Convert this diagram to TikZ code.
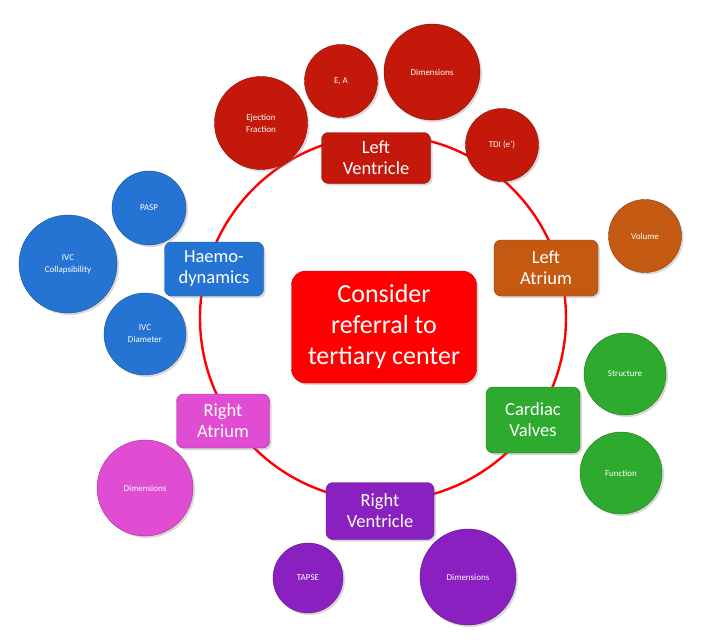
\documentclass[tikz,border=0pt]{standalone}
\usepackage{fontspec}
\setmainfont{Carlito}
\usepackage{xcolor}
\usepackage{tikz}
\usetikzlibrary{positioning,shadows}

\definecolor{lvred}{HTML}{C4180B}
\definecolor{laorange}{HTML}{C45A12}
\definecolor{cvgreen}{HTML}{2EAA2E}
\definecolor{rvpurple}{HTML}{8A20C0}
\definecolor{ramagenta}{HTML}{E04CD2}
\definecolor{hdblue}{HTML}{2574D4}

\begin{document}
\begin{tikzpicture}[
    x=1pt, y=-1pt,
    ring/.style={draw=red, line width=2.4pt},
    box/.style={
        rectangle,
        draw=#1!70!black,
        fill=#1,
        rounded corners=7pt,
        text=white,
        align=center,
        inner sep=2pt,
        font=\fontsize{18.5}{21}\selectfont,
        drop shadow={opacity=0.3, shadow xshift=2pt, shadow yshift=-2pt}
    },
    bubble/.style={
        circle,
        draw=#1!70!black,
        fill=#1,
        text=white,
        align=center,
        inner sep=0pt,
        font=\fontsize{9}{12}\selectfont,
        drop shadow={opacity=0.3, shadow xshift=2pt, shadow yshift=-2pt}
    }
]
\useasboundingbox (0,0) rectangle (721,642);

\coordinate (hub) at (383,318);
\draw[ring] (hub) circle[radius=183];

\node[box=red, rounded corners=14pt, minimum width=185pt, minimum height=112pt,
      font=\fontsize{26}{31}\selectfont] (referral) at (384,327)
      {Consider\\referral to\\tertiary center};

\node[box=lvred, minimum width=109pt, minimum height=51pt] (lv) at (376,158) {Left\\Ventricle};
\node[box=laorange, minimum width=104pt, minimum height=56pt] (la) at (546,268) {Left\\Atrium};
\node[box=cvgreen, minimum width=94pt, minimum height=66pt] (cv) at (533,420) {Cardiac\\Valves};
\node[box=rvpurple, minimum width=108pt, minimum height=57pt] (rv) at (380,511) {Right\\Ventricle};
\node[box=ramagenta, minimum width=93pt, minimum height=54pt] (ra) at (223,421) {Right\\Atrium};
\node[box=hdblue, minimum width=99pt, minimum height=54pt] (hd) at (214,269) {Haemo-\\dynamics};

% left ventricle
\node[bubble=lvred, minimum size=93pt] (lvef) at (261,123) {Ejection\\Fraction};
\node[bubble=lvred, minimum size=73pt] (lvea) at (341,81) {E, A};
\node[bubble=lvred, minimum size=96pt] (lvdim) at (432,72) {Dimensions};
\node[bubble=lvred, minimum size=73pt] (lvtdi) at (502,145) {TDI (e')};

% left atrium
\node[bubble=laorange, minimum size=73pt] (lavol) at (645,236) {Volume};

% cardiac valves
\node[bubble=cvgreen, minimum size=82pt] (cvstr) at (625,374) {Structure};
\node[bubble=cvgreen, minimum size=82pt] (cvfun) at (621,473) {Function};

% right ventricle
\node[bubble=rvpurple, minimum size=96pt] (rvdim) at (468,577) {Dimensions};
\node[bubble=rvpurple, minimum size=70pt] (rvtapse) at (308,578) {TAPSE};

% right atrium
\node[bubble=ramagenta, minimum size=96pt] (radim) at (145,488) {Dimensions};

% haemodynamics
\node[bubble=hdblue, minimum size=74pt] (hdpasp) at (149,208) {PASP};
\node[bubble=hdblue, minimum size=98pt] (hdivcc) at (68,264) {IVC\\Collapsibility};
\node[bubble=hdblue, minimum size=82pt] (hdivcd) at (145,334) {IVC\\Diameter};

\end{tikzpicture}
\end{document}
